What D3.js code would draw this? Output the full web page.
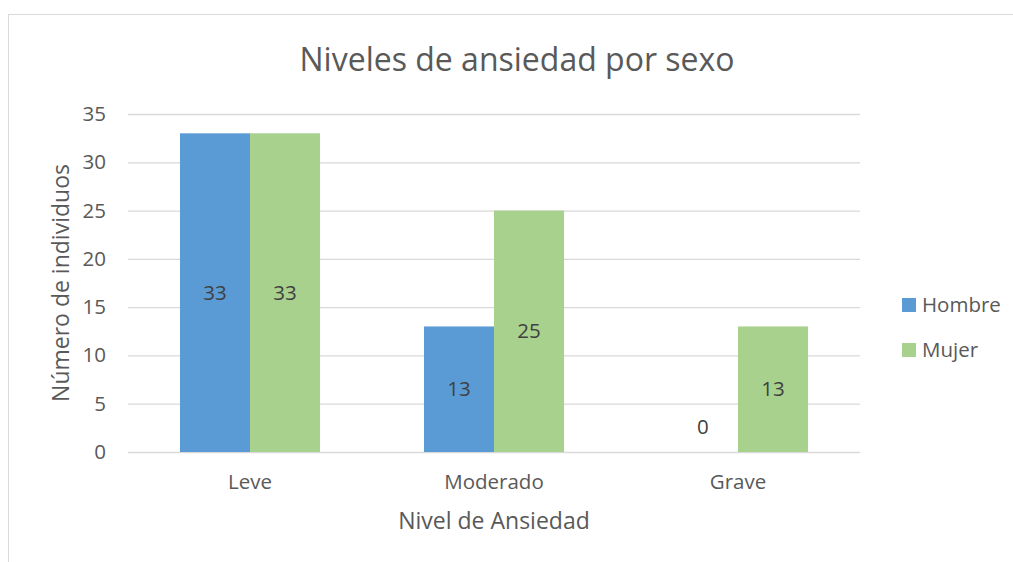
<!DOCTYPE html>
<html>
<head>
<meta charset="utf-8">
<script src="https://cdn.jsdelivr.net/npm/d3@7"></script>
<style>
  body { margin: 0; background: #fff; }
  svg text { font-family: "Open Sans", sans-serif; }
  .tick text { fill: #595959; font-size: 20.5px; }
</style>
</head>
<body>
<svg id="chart" width="1013" height="562"></svg>
<script>
// Data
const categories = ['Leve', 'Moderado', 'Grave'];
const seriesNames = ['Hombre', 'Mujer'];
const hombre = [33, 13, 0];
const mujer = [33, 25, 13];
const yTicks = [0, 5, 10, 15, 20, 25, 30, 35];
const colors = ['#5B9BD5', '#A9D18E'];

const svg = d3.select('#chart');
const margin = { top: 114, right: 153, bottom: 110, left: 128 };
const width = 1013 - margin.left - margin.right;
const height = 562 - margin.top - margin.bottom;

// chart border
svg.append('rect')
    .attr('x', 8.5).attr('y', 14.5)
    .attr('width', 1013).attr('height', 600)
    .attr('fill', 'none')
    .attr('stroke', '#D9D9D9');

const chart = svg.append('g')
    .attr('transform', `translate(${margin.left},${margin.top})`);

const rows = categories.map((c, i) => ({ cat: c, values: [hombre[i], mujer[i]] }));

const x0 = d3.scaleBand()
    .domain(categories)
    .range([0, width])
    .paddingInner(0.426)
    .paddingOuter(0.213);

const x1 = d3.scaleBand()
    .domain(seriesNames)
    .range([0, x0.bandwidth()]);

const y = d3.scaleLinear()
    .domain([0, 35])
    .range([height, 0]);

// gridlines + y axis
const yAxis = d3.axisLeft(y)
    .tickValues(yTicks)
    .tickSize(-width)
    .tickPadding(22);

chart.append('g')
    .attr('class', 'axis y-axis')
    .call(yAxis)
    .call(g => g.select('.domain').remove())
    .call(g => g.selectAll('.tick line').attr('stroke', '#D9D9D9').attr('stroke-width', 1.3));

// x axis labels
chart.append('g')
    .attr('class', 'axis x-axis')
    .attr('transform', `translate(0,${height})`)
    .call(d3.axisBottom(x0).tickSize(0).tickPadding(22))
    .call(g => g.select('.domain').remove());

// bars
const groups = chart.selectAll('.group')
    .data(rows)
  .join('g')
    .attr('class', 'group')
    .attr('transform', d => `translate(${x0(d.cat)},0)`);

groups.selectAll('rect')
    .data(d => d.values.map((v, i) => ({ key: seriesNames[i], value: v, i })))
  .join('rect')
    .attr('x', d => x1(d.key))
    .attr('width', x1.bandwidth())
    .attr('y', d => y(d.value))
    .attr('height', d => height - y(d.value))
    .attr('fill', d => colors[d.i]);

// data labels, centred in the bar
groups.selectAll('.label')
    .data(d => d.values.map((v, i) => ({ key: seriesNames[i], value: v, i })))
  .join('text')
    .attr('class', 'label')
    .attr('x', d => x1(d.key) + x1.bandwidth() / 2)
    .attr('y', d => d.value === 0 ? y(0) - 25 : (y(d.value) + height) / 2)
    .attr('dy', '0.35em')
    .attr('text-anchor', 'middle')
    .attr('fill', '#404040')
    .style('font-size', '20.5px')
    .text(d => d.value);

// title
svg.append('text')
    .attr('x', 517).attr('y', 60)
    .attr('dy', '0.35em')
    .attr('text-anchor', 'middle')
    .attr('fill', '#595959')
    .style('font-size', '32px')
    .text('Niveles de ansiedad por sexo');

// axis titles
svg.append('text')
    .attr('x', 494).attr('y', 521)
    .attr('dy', '0.35em')
    .attr('text-anchor', 'middle')
    .attr('fill', '#595959')
    .style('font-size', '23px')
    .text('Nivel de Ansiedad');

svg.append('text')
    .attr('transform', 'translate(61,283) rotate(-90)')
    .attr('dy', '0.35em')
    .attr('text-anchor', 'middle')
    .attr('fill', '#595959')
    .style('font-size', '23px')
    .text('Número de individuos');

// legend
const legend = svg.append('g')
    .attr('transform', 'translate(902,305)');

legend.selectAll('g')
    .data(seriesNames)
  .join('g')
    .attr('transform', (d, i) => `translate(0,${i * 45})`)
    .call(g => g.append('rect')
        .attr('x', 0).attr('y', -7)
        .attr('width', 14).attr('height', 14)
        .attr('fill', (d, i) => colors[i]))
    .call(g => g.append('text')
        .attr('x', 20)
        .attr('dy', '0.35em')
        .attr('fill', '#595959')
        .style('font-size', '20.5px')
        .text(d => d));
</script>
</body>
</html>
